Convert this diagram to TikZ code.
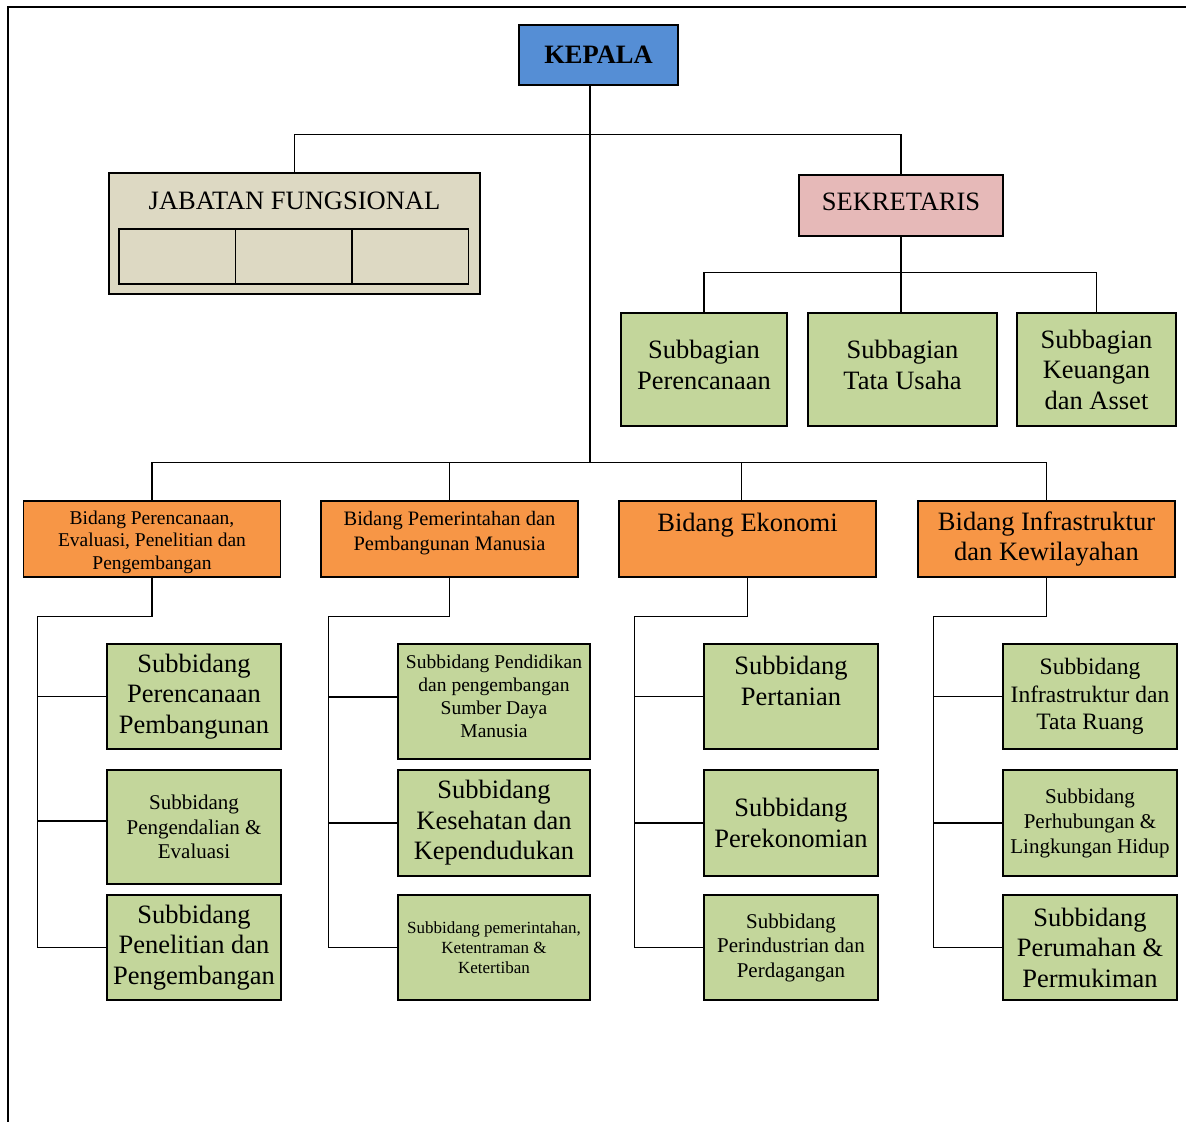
\documentclass[tikz,border=0pt]{standalone}
\usepackage{fontspec}
\setmainfont{Liberation Serif}
\usetikzlibrary{positioning}
\definecolor{kepalablue}{RGB}{85,142,213}
\definecolor{jabatangray}{RGB}{221,217,195}
\definecolor{sekretarispink}{RGB}{230,185,184}
\definecolor{subgreen}{RGB}{195,214,155}
\definecolor{bidangorange}{RGB}{247,150,70}

\begin{document}
\begin{tikzpicture}[x=1pt, y=-1pt,
    box/.style={draw, line width=1.2pt, inner sep=0pt, align=center, font=\fontsize{26.5}{30.5}\selectfont},
    plaintext/.style={inner sep=0pt, align=center, font=\fontsize{26.5}{30.5}\selectfont},
    conn/.style={line width=1.4pt},
    bidangbox/.style={box, fill=bidangorange, minimum width=257pt, minimum height=76pt},
    subbox/.style={box, fill=subgreen, minimum width=174pt}]
\useasboundingbox (0,0) rectangle (1186,1122);
\draw[line width=1.5pt] (1186,7) -- (8,7) -- (8,1122);

% top level
\node[box, fill=kepalablue, minimum width=159pt, minimum height=60pt, font=\bfseries\fontsize{26.5}{30.5}\selectfont] (kepala) at (598.5,55) {KEPALA};
\node[box, fill=jabatangray, minimum width=371pt, minimum height=121pt] (jabatan) at (294.5,233.5) {};
\node[plaintext] (jabtext) at (294.5,200.5) {JABATAN FUNGSIONAL};
\node[box, fill=jabatangray, line width=1.6pt, minimum width=116.5pt, minimum height=55pt] (fung1) at (177.25,256.5) {};
\node[box, fill=jabatangray, line width=1.6pt, minimum width=116.5pt, minimum height=55pt] (fung2) at (293.75,256.5) {};
\node[box, fill=jabatangray, line width=1.6pt, minimum width=116.5pt, minimum height=55pt] (fung3) at (410.25,256.5) {};
\node[box, fill=sekretarispink, minimum width=204pt, minimum height=61pt] (sekretaris) at (901,205.5) {};
\node[plaintext] (sektext) at (901,201.5) {SEKRETARIS};

\node[box, fill=subgreen, minimum width=166pt, minimum height=113pt] (sb1) at (704,369.5) {};
\node[plaintext] (sb1text) at (704,365) {Subbagian\\Perencanaan};
\node[box, fill=subgreen, minimum width=189pt, minimum height=113pt] (sb2) at (902.5,369.5) {};
\node[plaintext] (sb2text) at (902.5,365) {Subbagian\\Tata Usaha};
\node[box, fill=subgreen, minimum width=159pt, minimum height=113pt] (sb3) at (1096.5,369.5) {Subbagian\\Keuangan\\dan Asset};

\coordinate (bus) at (590,463);
\draw[conn] (bus) -- (bus |- kepala.south);
\draw[conn] (jabatan.north) -- ++(0,-38) -| (sekretaris.north);
\draw[conn] (sekretaris.south) -- (sekretaris.south |- sb2.north);
\draw[conn] (sb1.north) -- ++(0,-40) -| (sb3.north);

% bidang
\node[bidangbox] (bid1) at (152,539) {};
\node[plaintext, font=\fontsize{19.5}{22.5}\selectfont] (bid1text) at (152,542) {Bidang Perencanaan,\\Evaluasi, Penelitian dan\\Pengembangan};
\node[bidangbox] (bid2) at (449.5,539) {};
\node[plaintext, font=\fontsize{20.5}{25}\selectfont] (bid2text) at (449.5,533) {Bidang Pemerintahan dan\\Pembangunan Manusia};
\node[bidangbox] (bid3) at (747.5,539) {};
\node[plaintext] (bid3text) at (747.5,525.5) {Bidang Ekonomi};
\node[bidangbox] (bid4) at (1046.5,539) {Bidang Infrastruktur\\dan Kewilayahan};

\draw[conn] (bid1.north) -- ++(0,-38) -| (bid4.north);
\draw[conn] (bid2.north) -- ++(0,-38);
\draw[conn] ([xshift=-6pt]bid3.north) -- ++(0,-38);

% subbidang
\node[subbox, minimum height=105pt] (sub11) at (194,696.5) {Subbidang\\Perencanaan\\Pembangunan};
\node[subbox, minimum height=114pt, font=\fontsize{21}{24.5}\selectfont] (sub12) at (194,827) {Subbidang\\Pengendalian \&\\Evaluasi};
\node[subbox, minimum height=105pt] (sub13) at (194,947.5) {Subbidang\\Penelitian dan\\Pengembangan};

\node[subbox, minimum width=192pt, minimum height=115pt] (sub21) at (494,701.5) {};
\node[plaintext, font=\fontsize{19.5}{23}\selectfont] (sub21text) at (494,696) {Subbidang Pendidikan\\dan pengembangan\\Sumber Daya\\Manusia};
\node[subbox, minimum width=192pt, minimum height=106pt] (sub22) at (494,823) {Subbidang\\Kesehatan dan\\Kependudukan};
\node[subbox, minimum width=192pt, minimum height=105pt, font=\fontsize{17}{20}\selectfont] (sub23) at (494,947.5) {Subbidang pemerintahan,\\Ketentraman \&\\Ketertiban};

\node[subbox, minimum height=105pt] (sub31) at (791,696.5) {};
\node[plaintext] (sub31text) at (791,681) {Subbidang\\Pertanian};
\node[subbox, minimum height=106pt] (sub32) at (791,823) {Subbidang\\Perekonomian};
\node[subbox, minimum height=105pt, font=\fontsize{21}{24.5}\selectfont] (sub33) at (791,947.5) {Subbidang\\Perindustrian dan\\Perdagangan};

\node[subbox, minimum height=105pt, font=\fontsize{23.5}{27.5}\selectfont] (sub41) at (1090,696.5) {Subbidang\\Infrastruktur dan\\Tata Ruang};
\node[subbox, minimum height=106pt, font=\fontsize{21}{25}\selectfont] (sub42) at (1090,823) {Subbidang\\Perhubungan \&\\Lingkungan Hidup};
\node[subbox, minimum height=105pt] (sub43) at (1090,947.5) {Subbidang\\Perumahan \&\\Permukiman};

\draw[conn] (bid1.south) -- ++(0,39) -| ([xshift=-69pt]sub13.west);
\draw[conn] (bid2.south) -- ++(0,39) -| ([xshift=-69pt]sub23.west);
\draw[conn] (bid3.south) -- ++(0,39) -| ([xshift=-69pt]sub33.west);
\draw[conn] (bid4.south) -- ++(0,39) -| ([xshift=-69pt]sub43.west);
\foreach \s in {sub11,sub13,sub22,sub23,sub31,sub32,sub33,sub41,sub42,sub43}
  \draw[conn] (\s.west) -- ++(-69,0);
\draw[conn] ([yshift=6pt]sub12.west) -- ++(-69,0);
\draw[conn] ([yshift=4.5pt]sub21.west) -- ++(-69,0);

\end{tikzpicture}
\end{document}
